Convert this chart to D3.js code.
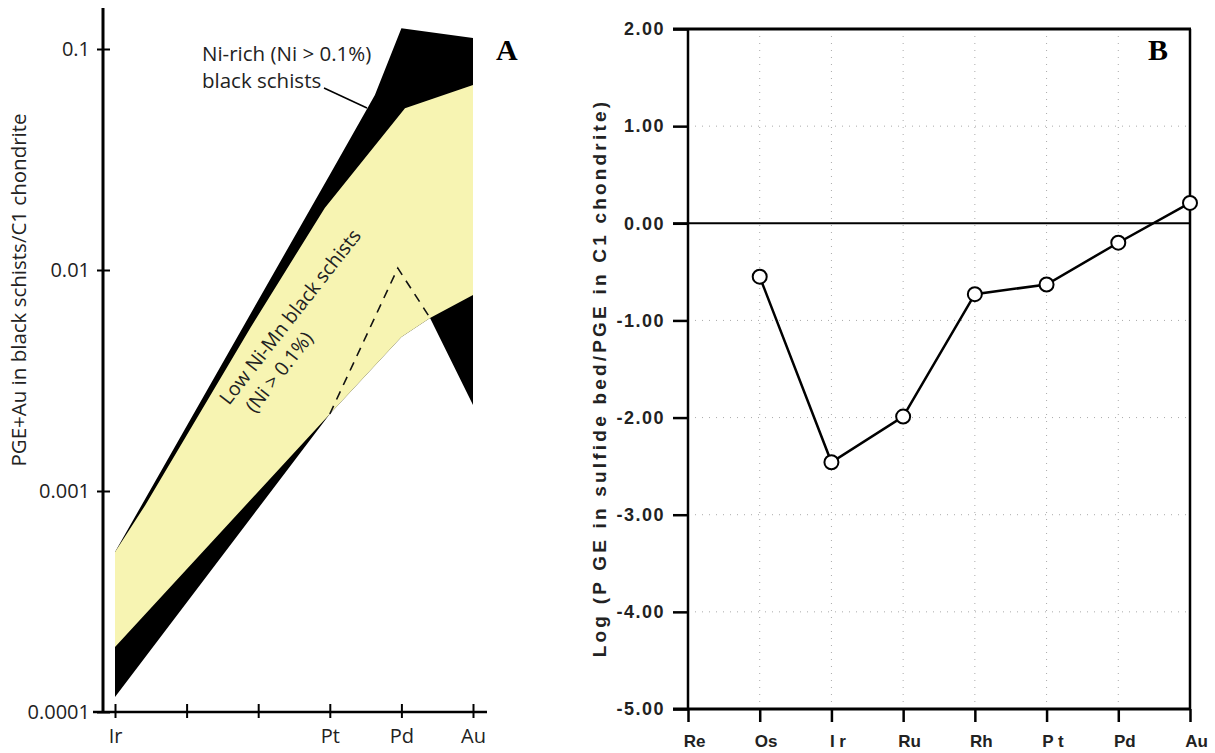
<!DOCTYPE html>
<html><head><meta charset="utf-8">
<script src="https://cdn.jsdelivr.net/npm/d3@7"></script>
<style>body{margin:0;background:#fff;} svg{display:block;}</style>
</head><body>
<svg id="chart" width="1215" height="753"></svg>
<script>
// ---------- Panel A data ----------
const aCategories = ["Ir", "", "", "Pt", "Pd", "Au"];
const aYTicks = [0.0001, 0.001, 0.01, 0.1];
const aYTickLabels = ["0.0001", "0.001", "0.01", "0.1"];
// [position index (Ir=0 ... Au=5), value]
const niRichUpper = [[0, 0.00053], [3, 0.027], [3.63, 0.062], [4, 0.124], [5, 0.112]];
const niRichLower = [[0, 0.000117], [3, 0.00223], [4, 0.00498], [4.4, 0.00607], [5, 0.00245]];
const lowNiUpper = [[0, 0.00053], [0.42, 0.00086], [1.89, 0.00547], [2.93, 0.0191], [4.05, 0.054], [5, 0.0687]];
const lowNiLower = [[0, 0.000197], [3, 0.00223], [4, 0.00498], [4.4, 0.00607], [5, 0.0077]];
const dashedTrend = [[3, 0.00223], [3.95, 0.0102], [4.4, 0.00607]];

// ---------- Panel B data ----------
const bCategories = ["Re", "Os", "Ir", "Ru", "Rh", "Pt", "Pd", "Au"];
const bTickLabels = ["Re", "Os", "I r", "Ru", "Rh", "P t", "Pd", "Au"];
const bValues = [null, -0.55, -2.46, -1.99, -0.73, -0.63, -0.20, 0.21];
const bYTicks = [2, 1, 0, -1, -2, -3, -4, -5];

const svg = d3.select("#chart");
const fontA = "'Open Sans', 'Noto Sans', sans-serif";
const fontB = "'Liberation Sans', Arial, sans-serif";

// ================= Panel A =================
const gA = svg.append("g");
const xA = d3.scaleLinear().domain([0, 5]).range([115, 473]);
const yA = d3.scaleLog().domain([1e-4, 0.1]).range([712, 49]);

const areaPath = (upper, lower) => {
  const pts = upper.concat(lower.slice().reverse());
  return d3.line().x(d => xA(d[0])).y(d => yA(d[1]))(pts) + "Z";
};
gA.append("path").attr("d", areaPath(niRichUpper, niRichLower)).attr("fill", "#000");
gA.append("path").attr("d", areaPath(lowNiUpper, lowNiLower)).attr("fill", "#f7f4b2");
gA.append("path")
  .attr("d", d3.line().x(d => xA(d[0])).y(d => yA(d[1]))(dashedTrend))
  .attr("fill", "none").attr("stroke", "#111").attr("stroke-width", 1.6)
  .attr("stroke-dasharray", "9,7");

// axes lines
gA.append("line").attr("x1", 103).attr("x2", 103).attr("y1", 8).attr("y2", 713)
  .attr("stroke", "#000").attr("stroke-width", 3);
gA.append("line").attr("x1", 93).attr("x2", 487).attr("y1", 712).attr("y2", 712)
  .attr("stroke", "#000").attr("stroke-width", 2.6);

const yAxisA = d3.axisLeft(yA).tickValues(aYTicks)
  .tickFormat((d, i) => aYTickLabels[i]).tickSize(6).tickPadding(9);
const gya = gA.append("g").attr("transform", "translate(103,0)").call(yAxisA);
gya.select(".domain").remove();
gya.selectAll(".tick line").attr("x1", -6).attr("x2", 7).attr("stroke-width", 2);
gya.selectAll(".tick text").attr("font-family", fontA).attr("font-size", 20).attr("fill", "#222")
  .attr("x", -13);

const xAxisA = d3.axisBottom(xA).tickValues(d3.range(aCategories.length))
  .tickFormat(i => aCategories[i]).tickSize(6);
const gxa = gA.append("g").attr("transform", "translate(0,712)").call(xAxisA);
gxa.select(".domain").remove();
gxa.selectAll(".tick line").attr("y1", -8).attr("y2", 6).attr("stroke-width", 2);
gxa.selectAll(".tick text").attr("font-family", fontA).attr("font-size", 20).attr("fill", "#222")
  .attr("y", 31).attr("dy", 0);

gA.append("text").attr("transform", "translate(26,290) rotate(-90)")
  .attr("text-anchor", "middle").attr("font-family", fontA).attr("font-size", 20.5).attr("fill", "#222")
  .text("PGE+Au in black schists/C1 chondrite");

// annotations
gA.append("text").attr("x", 202).attr("y", 61).attr("font-family", fontA).attr("font-size", 20.5)
  .attr("fill", "#222").text("Ni-rich (Ni > 0.1%)");
gA.append("text").attr("x", 202).attr("y", 88).attr("font-family", fontA).attr("font-size", 20.5)
  .attr("fill", "#222").text("black schists");
gA.append("line").attr("x1", 324).attr("y1", 88).attr("x2", 367).attr("y2", 108)
  .attr("stroke", "#000").attr("stroke-width", 1.5);
gA.append("text").attr("transform", "translate(229,406) rotate(-52)")
  .attr("font-family", fontA).attr("font-size", 19.5).attr("fill", "#222").text("Low Ni-Mn black schists");
gA.append("text").attr("transform", "translate(255,414) rotate(-52)")
  .attr("font-family", fontA).attr("font-size", 19.5).attr("fill", "#222").text("(Ni > 0.1%)");

gA.append("text").attr("x", 496).attr("y", 60).attr("font-family", "'Liberation Serif', 'Times New Roman', serif")
  .attr("font-weight", "bold").attr("font-size", 30).text("A");

// ================= Panel B =================
const gB = svg.append("g");
const xB = d3.scalePoint().domain(bCategories).range([688, 1190]);
const yB = d3.scaleLinear().domain([-5, 2]).range([709, 29]);

// grid
gB.selectAll(".vgrid").data(bCategories.slice(1, -1)).enter().append("line")
  .attr("x1", d => xB(d)).attr("x2", d => xB(d)).attr("y1", 29).attr("y2", 709)
  .attr("stroke", "#aaa").attr("stroke-width", 1).attr("stroke-dasharray", "1,6");
gB.selectAll(".hgrid").data(bYTicks.filter(d => d !== 2 && d !== -5 && d !== 0)).enter().append("line")
  .attr("x1", 688).attr("x2", 1190).attr("y1", d => yB(d)).attr("y2", d => yB(d))
  .attr("stroke", "#aaa").attr("stroke-width", 1).attr("stroke-dasharray", "1,6");

// frame
gB.append("line").attr("x1", 673).attr("x2", 1191).attr("y1", yB(2)).attr("y2", yB(2)).attr("stroke", "#000").attr("stroke-width", 3);
gB.append("line").attr("x1", 673).attr("x2", 1191).attr("y1", yB(-5)).attr("y2", yB(-5)).attr("stroke", "#000").attr("stroke-width", 3);
gB.append("line").attr("x1", 673).attr("x2", 1191).attr("y1", yB(0)).attr("y2", yB(0)).attr("stroke", "#000").attr("stroke-width", 2);
gB.append("line").attr("x1", 688).attr("x2", 688).attr("y1", yB(2)).attr("y2", yB(-5)).attr("stroke", "#000").attr("stroke-width", 2.5);
gB.append("line").attr("x1", 1190).attr("x2", 1190).attr("y1", yB(2)).attr("y2", yB(-5)).attr("stroke", "#000").attr("stroke-width", 2.5);

const yAxisB = d3.axisLeft(yB).tickValues(bYTicks).tickFormat(d => d.toFixed(2)).tickSize(15).tickPadding(8);
const gyb = gB.append("g").attr("transform", "translate(688,0)").call(yAxisB);
gyb.select(".domain").remove();
gyb.selectAll(".tick line").attr("stroke-width", 2.5);
gyb.selectAll(".tick text").attr("font-family", fontB).attr("font-weight", "bold").attr("font-size", 18)
  .attr("letter-spacing", "1.5px").attr("fill", "#222");

const xAxisB = d3.axisBottom(xB).tickFormat((d, i) => bTickLabels[i]).tickSize(13);
const gxb = gB.append("g").attr("transform", "translate(0,709)").call(xAxisB);
gxb.select(".domain").remove();
gxb.selectAll(".tick line").attr("stroke-width", 2.5);
gxb.selectAll(".tick text").attr("font-family", fontB).attr("font-weight", "bold").attr("font-size", 17)
  .attr("fill", "#222").attr("y", 38).attr("dy", 0).attr("x", 6);

gB.append("text").attr("transform", "translate(606,378) rotate(-90)")
  .attr("text-anchor", "middle").attr("font-family", fontB).attr("font-weight", "bold").attr("font-size", 19)
  .attr("letter-spacing", "3.2px").attr("fill", "#222")
  .text("Log (P GE in sulfide bed/PGE in C1 chondrite)");

const bData = bCategories.map((c, i) => ({ c: c, v: bValues[i] }));
gB.append("path")
  .attr("d", d3.line().defined(d => d.v !== null).x(d => xB(d.c)).y(d => yB(d.v))(bData))
  .attr("fill", "none").attr("stroke", "#000").attr("stroke-width", 2.5);
gB.selectAll(".pt").data(bData.filter(d => d.v !== null)).enter().append("circle")
  .attr("cx", d => xB(d.c)).attr("cy", d => yB(d.v)).attr("r", 7)
  .attr("fill", "#fff").attr("stroke", "#000").attr("stroke-width", 2);

gB.append("text").attr("x", 1148).attr("y", 60).attr("font-family", "'Liberation Serif', 'Times New Roman', serif")
  .attr("font-weight", "bold").attr("font-size", 30).text("B");
</script>
</body></html>
